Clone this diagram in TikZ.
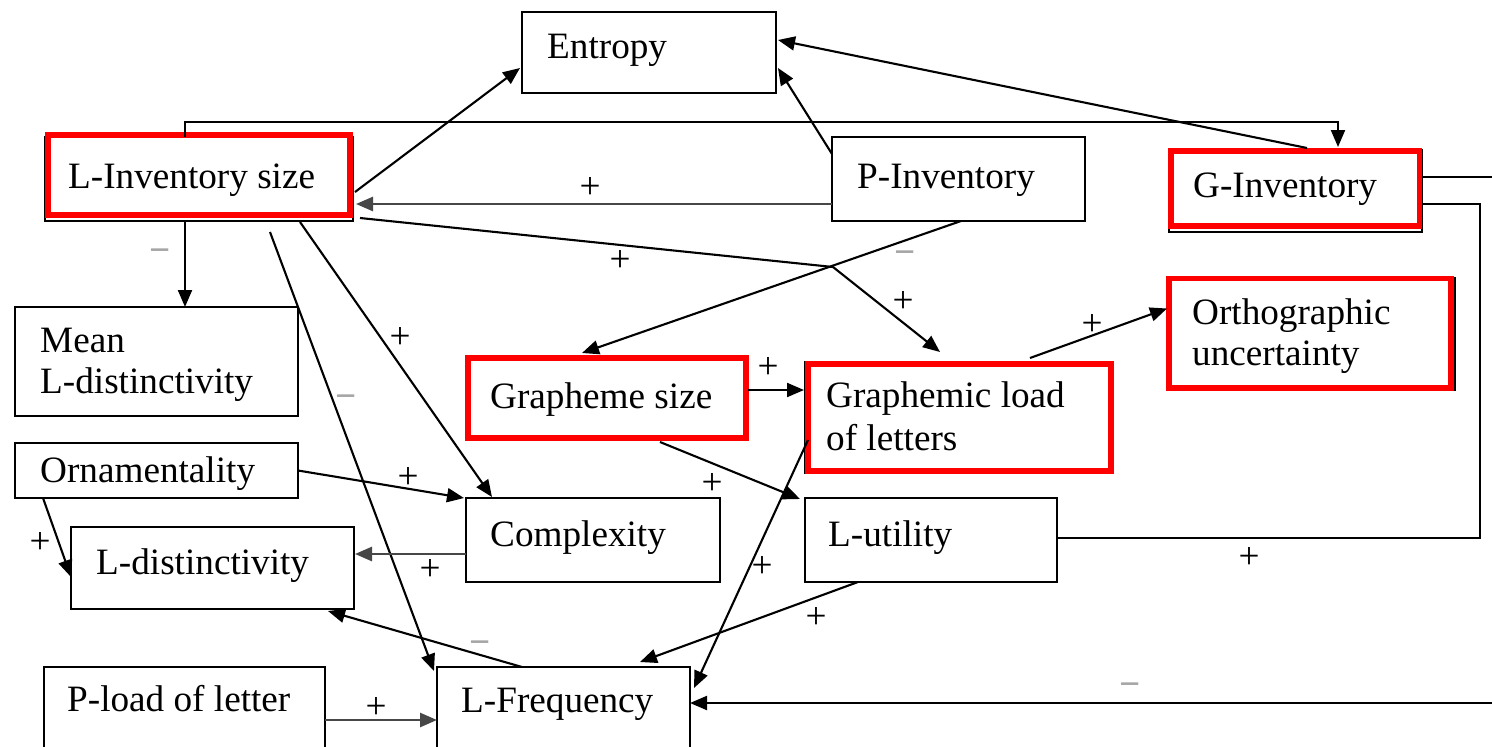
\documentclass[tikz,border=0pt]{standalone}
\usepackage{fontspec}
\setmainfont{Liberation Serif}
\usetikzlibrary{arrows.meta}
\tikzset{
  bx/.style={draw=black, line width=2.2pt, inner sep=0pt, outer sep=0pt, anchor=north west},
  rd/.style={draw=red, line width=5.6pt},
  txt/.style={anchor=base west, inner sep=0pt, font=\fontsize{37.2}{42}\selectfont},
  sg/.style={inner sep=0pt, font=\fontsize{37.2}{42}\selectfont},
  mn/.style={sg, text=black!35, font=\fontsize{37.2}{42}\selectfont\bfseries},
  ar/.style={draw=black, line width=2.1pt, -{Triangle[length=17pt,width=14pt]}},
  gar/.style={draw=black!72, line width=2.6pt, -{Triangle[length=17pt,width=14pt]}},
  ln/.style={draw=black, line width=2.1pt}
}
\begin{document}
\begin{tikzpicture}[x=1pt,y=-1pt]
\useasboundingbox (0,0) rectangle (1492,747);
\clip (0,0) rectangle (1492,747);
\fill[white] (0,0) rectangle (1492,747);

% boxes
\node[bx, minimum width=254pt, minimum height=81pt] (ent) at (522,12) {};
\node[bx, minimum width=308pt, minimum height=84pt] (lis) at (45,137) {};
\node[bx, minimum width=253pt, minimum height=84pt] (pinv) at (832,137) {};
\node[bx, minimum width=253pt, minimum height=82pt] (ginv) at (1169,150) {};
\node[bx, minimum width=283pt, minimum height=109pt] (mean) at (15,307) {};
\node[bx, minimum width=287pt, minimum height=112pt] (orth) at (1168,278) {};
\node[bx, minimum width=280pt, minimum height=80pt] (gsize) at (466,360) {};
\node[bx, minimum width=307pt, minimum height=111pt] (gload) at (805,362) {};
\node[bx, minimum width=283pt, minimum height=55pt] (orn) at (15,443) {};
\node[bx, minimum width=254pt, minimum height=84pt] (comp) at (466,498) {};
\node[bx, minimum width=252pt, minimum height=84pt] (lut) at (805,498) {};
\node[bx, minimum width=283pt, minimum height=82pt] (ldist) at (71,527) {};
\node[bx, minimum width=281pt, minimum height=100pt] (pload) at (44,667) {};
\node[bx, minimum width=253pt, minimum height=100pt] (lfreq) at (437,667) {};

% red highlight frames
\draw[rd] ([shift={(3,-2)}]lis.north west) rectangle ([shift={(-3,-6)}]lis.south east);
\draw[rd] ([shift={(2,1)}]ginv.north west) rectangle ([shift={(-2.5,-6)}]ginv.south east);
\draw[rd] ([shift={(1,0.5)}]orth.north west) rectangle ([shift={(-4,-2)}]orth.south east);
\draw[rd] ([shift={(2,-2)}]gsize.north west) rectangle ([shift={(0,-2)}]gsize.south east);
\draw[rd] ([shift={(3,2)}]gload.north west) rectangle ([shift={(-1,-2)}]gload.south east);

% texts
\node[txt] (tent) at (547,58) {Entropy};
\node[txt] (tlis) at (68,188) {L-Inventory size};
\node[txt] (tpinv) at (857,188) {P-Inventory};
\node[txt] (tginv) at (1193,197) {G-Inventory};
\node[txt] (tmean1) at (40,352) {Mean};
\node[txt] (tmean2) at (40,393) {L-distinctivity};
\node[txt] (torth1) at (1192,324) {Orthographic};
\node[txt] (torth2) at (1192,365) {uncertainty};
\node[txt] (tgsize) at (490,408) {Grapheme size};
\node[txt] (tgload1) at (826,407) {Graphemic load};
\node[txt] (tgload2) at (826,450) {of letters};
\node[txt] (torn) at (40,482) {Ornamentality};
\node[txt] (tcomp) at (490,546) {Complexity};
\node[txt] (tlut) at (828,546) {L-utility};
\node[txt] (tldist) at (96,574) {L-distinctivity};
\node[txt] (tpload) at (67,711) {P-load of letter};
\node[txt] (tlfreq) at (461,712) {L-Frequency};

% free ends / bends
\coordinate (k1) at (833,267);
\coordinate (rin) at (1495,703);
\coordinate (rout) at (1495,177);

% connectors
\draw[ar] ([shift={(2,13)}]lis.east) -- ([shift={(-2,15.5)}]ent.west);
\draw[ar] ([shift={(0,17)}]pinv.north west) -- ([shift={(2,15.5)}]ent.east);
\draw[ar] ([shift={(138,-2)}]ginv.north west) -- ([shift={(2,-12.5)}]ent.east);
\draw[ar] ([shift={(140,0)}]lis.north west) -- ++(0,-15) -| ([shift={(169,-3)}]ginv.north west);
\draw[gar] ([shift={(0,25)}]pinv.west) -- ([shift={(3,25)}]lis.east);
\draw[ar] ([shift={(7,-3)}]lis.south east) -- (k1) -- ([shift={(135,-10)}]gload.north west);
\draw[ar] ([shift={(129,0)}]pinv.south west) -- ([shift={(116,-7)}]gsize.north west);
\draw[ar] ([shift={(2,-10)}]gsize.east) -- ([shift={(-1,-27.5)}]gload.west);
\draw[ar] ([shift={(225,-4)}]gload.north west) -- ([shift={(-1,-25.5)}]orth.west);
\draw[ar] ([shift={(194,2)}]gsize.south west) -- ([shift={(-5,1)}]lut.north west);
\draw[ar] ([shift={(3,22.5)}]gload.west) -- ([shift={(4,21)}]lfreq.north east);
\draw[ar] ([shift={(53,0)}]lut.south west) -- ([shift={(203,-5)}]lfreq.north west);
\draw[ar] ([shift={(225,11)}]lis.south west) -- ([shift={(-3,4)}]lfreq.north west);
\draw[ar] ([shift={(255,1)}]lis.south west) -- ([shift={(26,-1)}]comp.north west);
\draw[ar] ([shift={(140,0)}]lis.south west) -- ([shift={(170,0)}]mean.north west);
\draw[ar] (orn.east) -- ([shift={(-2,0)}]comp.north west);
\draw[ar] ([shift={(28,0)}]orn.south west) -- ([shift={(0,50)}]ldist.north west);
\draw[gar] ([shift={(0,14)}]comp.west) -- ([shift={(1,-14)}]ldist.east);
\draw[ar] ([shift={(85,0)}]lfreq.north west) -- ([shift={(-26,2)}]ldist.south east);
\draw[gar] ([shift={(0,53)}]pload.north east) -- ([shift={(0,53)}]lfreq.north west);
\draw[ar] (rin) -- ([shift={(0,36)}]lfreq.north east);
\draw[ln] ([shift={(0,-2)}]lut.east) -| ([shift={(58,13)}]ginv.east) -- ([shift={(0,13)}]ginv.east);
\draw[ln] ([shift={(0,-14)}]ginv.east) -- (rout);

% signs
\node[sg] (s1) at (590,188) {+};
\node[sg] (s2) at (620,261) {+};
\node[mn] (s3) at (905,258) {−};
\node[sg] (s4) at (903,302) {+};
\node[sg] (s5) at (1092,325) {+};
\node[sg] (s6) at (768,368) {+};
\node[mn] (s7) at (160,256) {−};
\node[sg] (s8) at (400,338) {+};
\node[mn] (s9) at (346,402) {−};
\node[sg] (s10) at (408,478) {+};
\node[sg] (s11) at (712,484) {+};
\node[sg] (s12) at (40,543) {+};
\node[sg] (s13) at (430,570) {+};
\node[sg] (s14) at (762,567) {+};
\node[sg] (s15) at (816,618) {+};
\node[mn] (s16) at (480,648) {−};
\node[sg] (s17) at (376,708) {+};
\node[mn] (s18) at (1130,690) {−};
\node[sg] (s19) at (1249,558) {+};
\end{tikzpicture}
\end{document}
